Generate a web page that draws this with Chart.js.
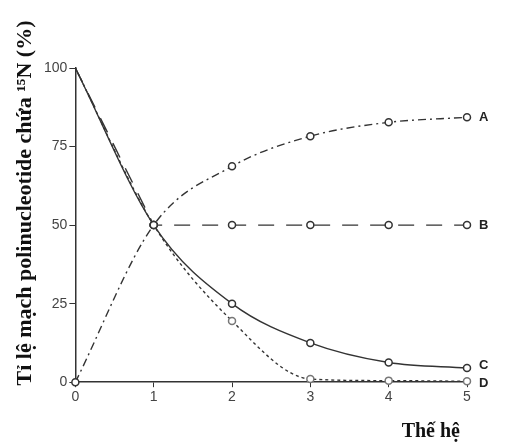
<!DOCTYPE html>
<html>
<head>
<meta charset="utf-8">
<script src="https://cdn.jsdelivr.net/npm/chart.js@4"></script>
<style>
  body { margin: 0; background: #fff; }
  #wrap { width: 531px; height: 445px; }
</style>
</head>
<body>
<div id="wrap"><canvas id="chart"></canvas></div>
<script>
// generations on the x axis
const generations = [0, 1, 2, 3, 4, 5];
const yTicks = [0, 25, 50, 75, 100];

// series values (%)
const seriesA = [0, 50, 68.7, 78.3, 82.7, 84.3];
const seriesB = [100, 50, 50, 50, 50, 50];
const seriesC = [100, 50, 25, 12.5, 6.25, 4.5];
const seriesD = [100, 50, 19.5, 1, 0.5, 0.3];
const seriesNames = ["A", "B", "C", "D"];

const yTitle = "Tỉ lệ mạch polinucleotide chứa ¹⁵N (%)";
const xTitle = "Thế hệ";

const toPoints = (vals) => vals.map((v, i) => ({ x: generations[i], y: v }));

// open circle markers, hidden at x = 0 except where asked
const radiusFrom = (showFirst) => generations.map((g, i) => (i === 0 && !showFirst ? 0 : 3.5));

const lineColor = "#333";
const serif = "'Liberation Serif', 'Times New Roman', serif";
const sans = "'Liberation Sans', Arial, sans-serif";

const makeSet = (name, vals, dash, smooth, showFirst, markerColor) => ({
  label: name,
  data: toPoints(vals),
  borderColor: lineColor,
  borderWidth: 1.4,
  borderDash: dash,
  tension: smooth ? 0.4 : 0,
  cubicInterpolationMode: smooth ? "monotone" : "default",
  pointRadius: radiusFrom(showFirst),
  pointBackgroundColor: "#fff",
  pointBorderColor: markerColor || lineColor,
  pointBorderWidth: 1.5,
  clip: false,
});

// draws the A/B/C/D names next to the last point of each line, plus axis titles
const extraText = {
  id: "extraText",
  afterDraw(chart) {
    const ctx = chart.ctx;
    ctx.save();
    ctx.font = "bold 13px " + sans;
    ctx.fillStyle = "#222";
    ctx.textBaseline = "middle";
    chart.data.datasets.forEach((ds, i) => {
      const meta = chart.getDatasetMeta(i);
      const last = meta.data[meta.data.length - 1];
      let y = last.y;
      if (ds.label === "C") y -= 3;
      if (ds.label === "D") y += 2;
      ctx.fillText(ds.label, last.x + 12, y);
    });

    // y axis title
    ctx.fillStyle = "#111";
    ctx.font = "bold 22px " + serif;
    ctx.textAlign = "center";
    ctx.translate(25, 203);
    ctx.rotate(-Math.PI / 2);
    ctx.fillText(yTitle, 0, 0);
    ctx.restore();

    // x axis title
    ctx.save();
    ctx.fillStyle = "#111";
    ctx.font = "bold 20px " + serif;
    ctx.textAlign = "right";
    ctx.textBaseline = "middle";
    ctx.fillText(xTitle, 460, 432);
    ctx.restore();
  },
};

new Chart(document.getElementById("chart"), {
  type: "line",
  data: {
    datasets: [
      makeSet(seriesNames[0], seriesA, [8, 4, 2, 4], true, true),
      makeSet(seriesNames[1], seriesB, [16, 12], false, false),
      makeSet(seriesNames[2], seriesC, [], true, false),
      makeSet(seriesNames[3], seriesD, [3, 3], true, false, "#777"),
    ],
  },
  options: {
    responsive: true,
    maintainAspectRatio: false,
    animation: false,
    layout: { padding: { top: 68, right: 64, left: 42, bottom: 37 } },
    plugins: { legend: { display: false }, tooltip: { enabled: false } },
    scales: {
      x: {
        type: "linear",
        min: 0,
        max: 5,
        afterBuildTicks: (axis) => { axis.ticks = generations.map((v) => ({ value: v })); },
        grid: { drawOnChartArea: false, drawTicks: true, tickLength: 5, color: lineColor },
        border: { display: true, color: lineColor, width: 1.5 },
        ticks: { color: "#444", font: { size: 14, family: sans }, padding: 2 },
      },
      y: {
        min: 0,
        max: 100,
        afterBuildTicks: (axis) => { axis.ticks = yTicks.map((v) => ({ value: v })); },
        grid: { drawOnChartArea: false, drawTicks: true, tickLength: 6, color: lineColor },
        border: { display: true, color: lineColor, width: 1.5 },
        ticks: { color: "#444", font: { size: 14, family: sans }, padding: 2 },
      },
    },
  },
  plugins: [extraText],
});
</script>
</body>
</html>
